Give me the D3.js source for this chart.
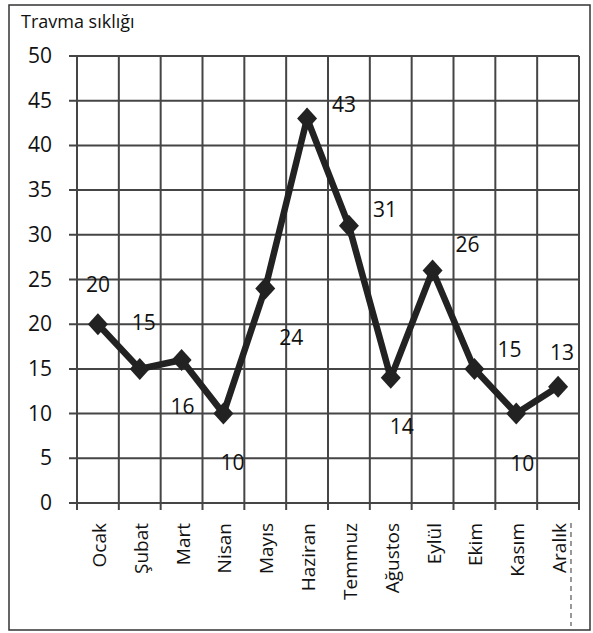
<!DOCTYPE html>
<html>
<head>
<meta charset="utf-8">
<script src="https://cdn.jsdelivr.net/npm/d3@7"></script>
<style>
  html, body { margin: 0; padding: 0; background: #fff; }
  svg { display: block; }
  text { font-family: "Open Sans", "DejaVu Sans", sans-serif; fill: #111; }
</style>
</head>
<body>
<svg id="chart" width="593" height="633"></svg>
<script>
// Monthly trauma counts
const months = ["Ocak", "Şubat", "Mart", "Nisan", "Mayıs", "Haziran",
                "Temmuz", "Ağustos", "Eylül", "Ekim", "Kasım", "Aralık"];
const counts = [20, 15, 16, 10, 24, 43, 31, 14, 26, 15, 10, 13];
const yTicks = [0, 5, 10, 15, 20, 25, 30, 35, 40, 45, 50];
const yTitle = "Travma sıklığı";

// Value label offsets from each point
const labelDx = [0, 4, 1, 9, 26, 37, 36, 11, 35, 35, 6, 4];
const labelDy = [-32, -39, 54, 56, 57, -7, -9, 56, -19, -12, 57, -27];

const svg = d3.select("#chart");

// Outer frame
svg.append("rect")
  .attr("x", 9).attr("y", 5)
  .attr("width", 581).attr("height", 625)
  .attr("fill", "none").attr("stroke", "#333").attr("stroke-width", 1.5);

const plotLeft = 77, plotRight = 579, plotTop = 56, plotBottom = 503;

const x = d3.scaleBand().domain(months).range([plotLeft, plotRight]);
const y = d3.scaleLinear().domain([0, 50]).range([plotBottom, plotTop]);

const grid = svg.append("g").attr("stroke", "#454545").attr("stroke-width", 2);

// Horizontal gridlines (extend left as tick marks)
grid.selectAll("line.h").data(yTicks).join("line")
  .attr("class", "h")
  .attr("x1", plotLeft - 8).attr("x2", plotRight)
  .attr("y1", d => y(d)).attr("y2", d => y(d));

// Vertical gridlines at band boundaries (extend below as tick marks)
const bounds = months.map(m => x(m)).concat([x(months[months.length - 1]) + x.bandwidth()]);
grid.selectAll("line.v").data(bounds).join("line")
  .attr("class", "v")
  .attr("x1", d => d).attr("x2", d => d)
  .attr("y1", plotTop).attr("y2", plotBottom + 7);

// Y axis labels
svg.selectAll("text.ytick").data(yTicks).join("text")
  .attr("class", "ytick")
  .attr("x", 52).attr("y", d => y(d) + 7)
  .attr("text-anchor", "end")
  .attr("font-size", 21)
  .text(d => d);

// Y title
svg.append("text")
  .attr("x", 21).attr("y", 28)
  .attr("font-size", 18)
  .text(yTitle);

// Month labels, rotated
svg.selectAll("text.xtick").data(months).join("text")
  .attr("class", "xtick")
  .attr("transform", d => `translate(${x(d) + x.bandwidth() / 2 + 8},523) rotate(-90)`)
  .attr("text-anchor", "end")
  .attr("font-size", 19)
  .text(d => d);

// Dashed rule beside the last month label
svg.append("line")
  .attr("x1", 571).attr("x2", 571)
  .attr("y1", 523).attr("y2", 626)
  .attr("stroke", "#555").attr("stroke-width", 1.2)
  .attr("stroke-dasharray", "5,4");

const cx = d => x(d) + x.bandwidth() / 2;

// Line
const line = d3.line()
  .x((d, i) => cx(months[i]))
  .y(d => y(d));

svg.append("path")
  .datum(counts)
  .attr("d", line)
  .attr("fill", "none")
  .attr("stroke", "#222")
  .attr("stroke-width", 6.5)
  .attr("stroke-linejoin", "miter");

// Diamond markers
const diamond = "M0,-11L10,0L0,11L-10,0Z";
svg.selectAll("path.mk").data(counts).join("path")
  .attr("class", "mk")
  .attr("d", diamond)
  .attr("fill", "#222")
  .attr("transform", (d, i) => `translate(${cx(months[i])},${y(d)})`);

// Value labels
svg.selectAll("text.val").data(counts).join("text")
  .attr("class", "val")
  .attr("x", (d, i) => cx(months[i]) + labelDx[i])
  .attr("y", (d, i) => y(d) + labelDy[i])
  .attr("text-anchor", "middle")
  .attr("font-size", 21)
  .text(d => d);
</script>
</body>
</html>
